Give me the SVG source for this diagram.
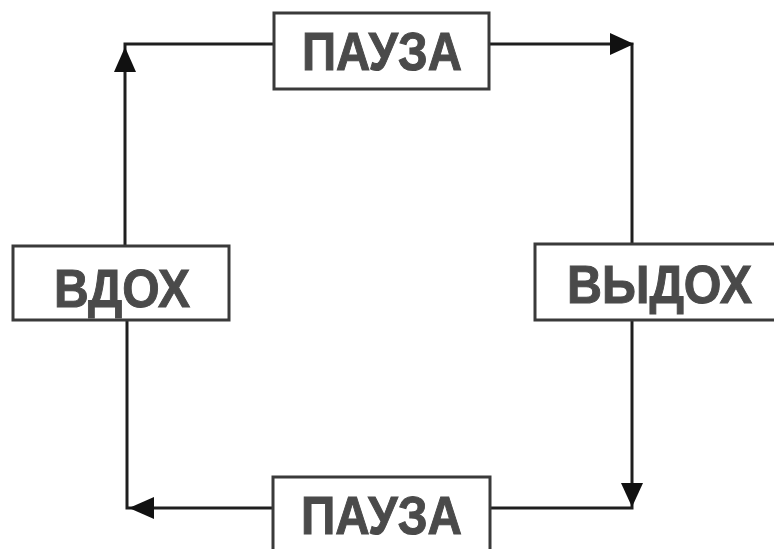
<svg xmlns="http://www.w3.org/2000/svg" width="774" height="549" viewBox="0 0 774 549">
<defs>
<style>
.box{fill:#fff;stroke:#3a3a3a;stroke-width:3}
.lbl{font-family:"Liberation Sans",Arial,sans-serif;font-weight:bold;font-size:53px;fill:#4a4a4a;stroke:#4a4a4a;stroke-width:1}
.ln{fill:none;stroke:#1e1e1e;stroke-width:3}
.ah{fill:#111}
</style>
</defs>
<rect width="774" height="549" fill="#fff"/>
<g id="connectors">
<polyline class="ln" points="125,246 125,44 274,44"/>
<polygon class="ah" points="125,47 114,72 136,72"/>
<polyline class="ln" points="489,44 632,44 632,244"/>
<polygon class="ah" points="634,44 610,33 610,55"/>
<polyline class="ln" points="632,320 632,508 490,508"/>
<polygon class="ah" points="632,507 621,483 643,483"/>
<polyline class="ln" points="273,508 127,508 127,320"/>
<polygon class="ah" points="129,508 154,497 154,519"/>
</g>
<g id="pause-top">
<rect class="box" x="274" y="13" width="215" height="76"/>
<text class="lbl" x="302" y="70" textLength="160" lengthAdjust="spacingAndGlyphs">ПАУЗА</text>
</g>
<g id="inhale">
<rect class="box" x="13" y="246" width="216" height="74"/>
<text class="lbl" x="54" y="307" textLength="136" lengthAdjust="spacingAndGlyphs">ВДОХ</text>
</g>
<g id="exhale">
<rect class="box" x="535" y="244" width="250" height="76"/>
<text class="lbl" x="567" y="303" textLength="185" lengthAdjust="spacingAndGlyphs">ВЫДОХ</text>
</g>
<g id="pause-bottom">
<rect class="box" x="273" y="477" width="217" height="80"/>
<text class="lbl" x="301" y="534" textLength="161" lengthAdjust="spacingAndGlyphs">ПАУЗА</text>
</g>
</svg>
